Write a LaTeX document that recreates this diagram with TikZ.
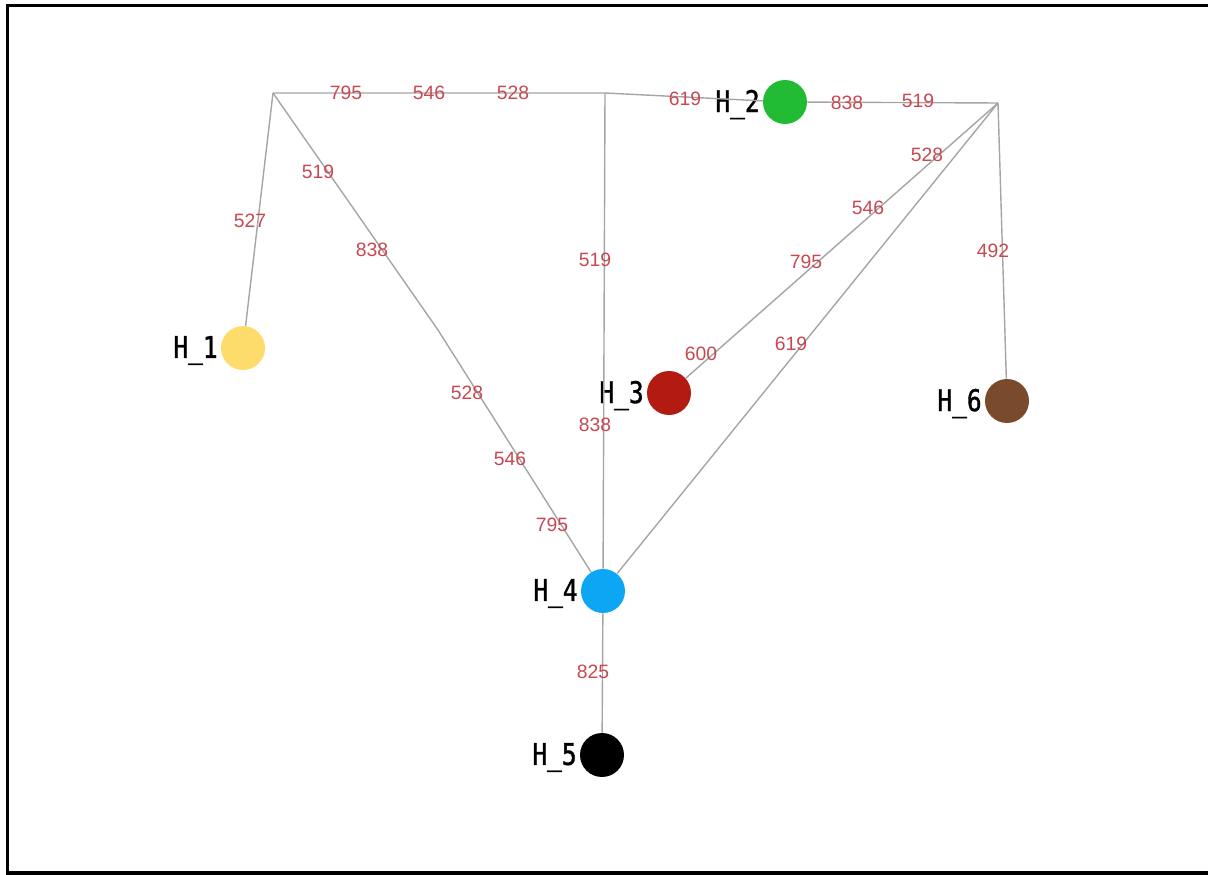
\documentclass[tikz,border=0pt]{standalone}
\usepackage{fontspec}
\setmainfont{Liberation Sans}
\newfontfamily\hapfont[FakeStretch=0.82,FakeBold=1.2]{DejaVu Sans Mono}
\usepackage{tikz}
\usetikzlibrary{positioning}
\definecolor{h1clr}{RGB}{253,220,108}
\definecolor{h2clr}{RGB}{34,187,52}
\definecolor{h3clr}{RGB}{178,26,18}
\definecolor{h4clr}{RGB}{12,166,245}
\definecolor{h5clr}{RGB}{0,0,0}
\definecolor{h6clr}{RGB}{122,74,44}
\definecolor{linkclr}{RGB}{165,165,165}
\definecolor{wtclr}{RGB}{200,72,82}
\tikzset{
  hap/.style={circle,minimum size=8.8mm,inner sep=0pt},
  hlab/.style={font=\hapfont\fontsize{17}{19}\selectfont,text=black,inner sep=1.5pt,yshift=-0.5mm},
  link/.style={draw=linkclr,line width=0.8pt},
  wt/.style={font=\fontsize{11}{12}\selectfont,text=wtclr,inner sep=0pt},
}

\begin{document}
\begin{tikzpicture}[x=0.02cm, y=-0.02cm]
\useasboundingbox (0,0) rectangle (1208,875);
\draw[line width=1.8pt] (1208,5.5) -- (7.5,5.5) -- (7.5,873) -- (1208,873);

% haplotypes
\node[hap,fill=h1clr,label={[hlab]left:H\_1}] (h1) at (243,348) {};
\node[hap,fill=h2clr,label={[hlab]left:H\_2}] (h2) at (785,102) {};
\node[hap,fill=h3clr,label={[hlab]left:H\_3}] (h3) at (669,393) {};
\node[hap,fill=h4clr,label={[hlab]left:H\_4}] (h4) at (603,591) {};
\node[hap,fill=h5clr,label={[hlab]left:H\_5}] (h5) at (602,755) {};
\node[hap,fill=h6clr,label={[hlab]left:H\_6}] (h6) at (1007,401) {};

% median vectors
\coordinate (mvl) at (273,93);
\coordinate (mvm) at (605,93);
\coordinate (mvr) at (998,103);
\coordinate (kink) at (438,330);

\draw[link] (mvl) -- (h1);
\draw[link] (mvl) -- (mvm) -- (h2);
\draw[link] (mvl) -- (kink) -- (h4);
\draw[link] (mvm) -- (h4);
\draw[link] (h2) -- (mvr);
\draw[link] (mvr) -- (h3);
\draw[link] (mvr) -- (h4);
\draw[link] (mvr) -- (h6);
\draw[link] (h4) -- (h5);

% mutated positions
\node[wt] (wl1) at (250,221) {527};
\node[wt] (wt1) at (346,93) {795};
\node[wt] (wt2) at (429,93) {546};
\node[wt] (wt3) at (513,93) {528};
\node[wt] (wt4) at (685,99) {619};
\node[wt] (wd1) at (318,172) {519};
\node[wt] (wd2) at (372,250) {838};
\node[wt] (wd3) at (467,393) {528};
\node[wt] (wd4) at (510,459) {546};
\node[wt] (wd5) at (552,525) {795};
\node[wt] (wv1) at (595,260) {519};
\node[wt] (wv2) at (595,425) {838};
\node[wt] (wr1) at (847,103) {838};
\node[wt] (wr2) at (918,101) {519};
\node[wt] (wh1) at (927,155) {528};
\node[wt] (wh2) at (868,208) {546};
\node[wt] (wh3) at (806,262) {795};
\node[wt] (wh4) at (701,354) {600};
\node[wt] (wf1) at (791,344) {619};
\node[wt] (ws1) at (993,251) {492};
\node[wt] (wb1) at (593,672) {825};
\end{tikzpicture}
\end{document}
